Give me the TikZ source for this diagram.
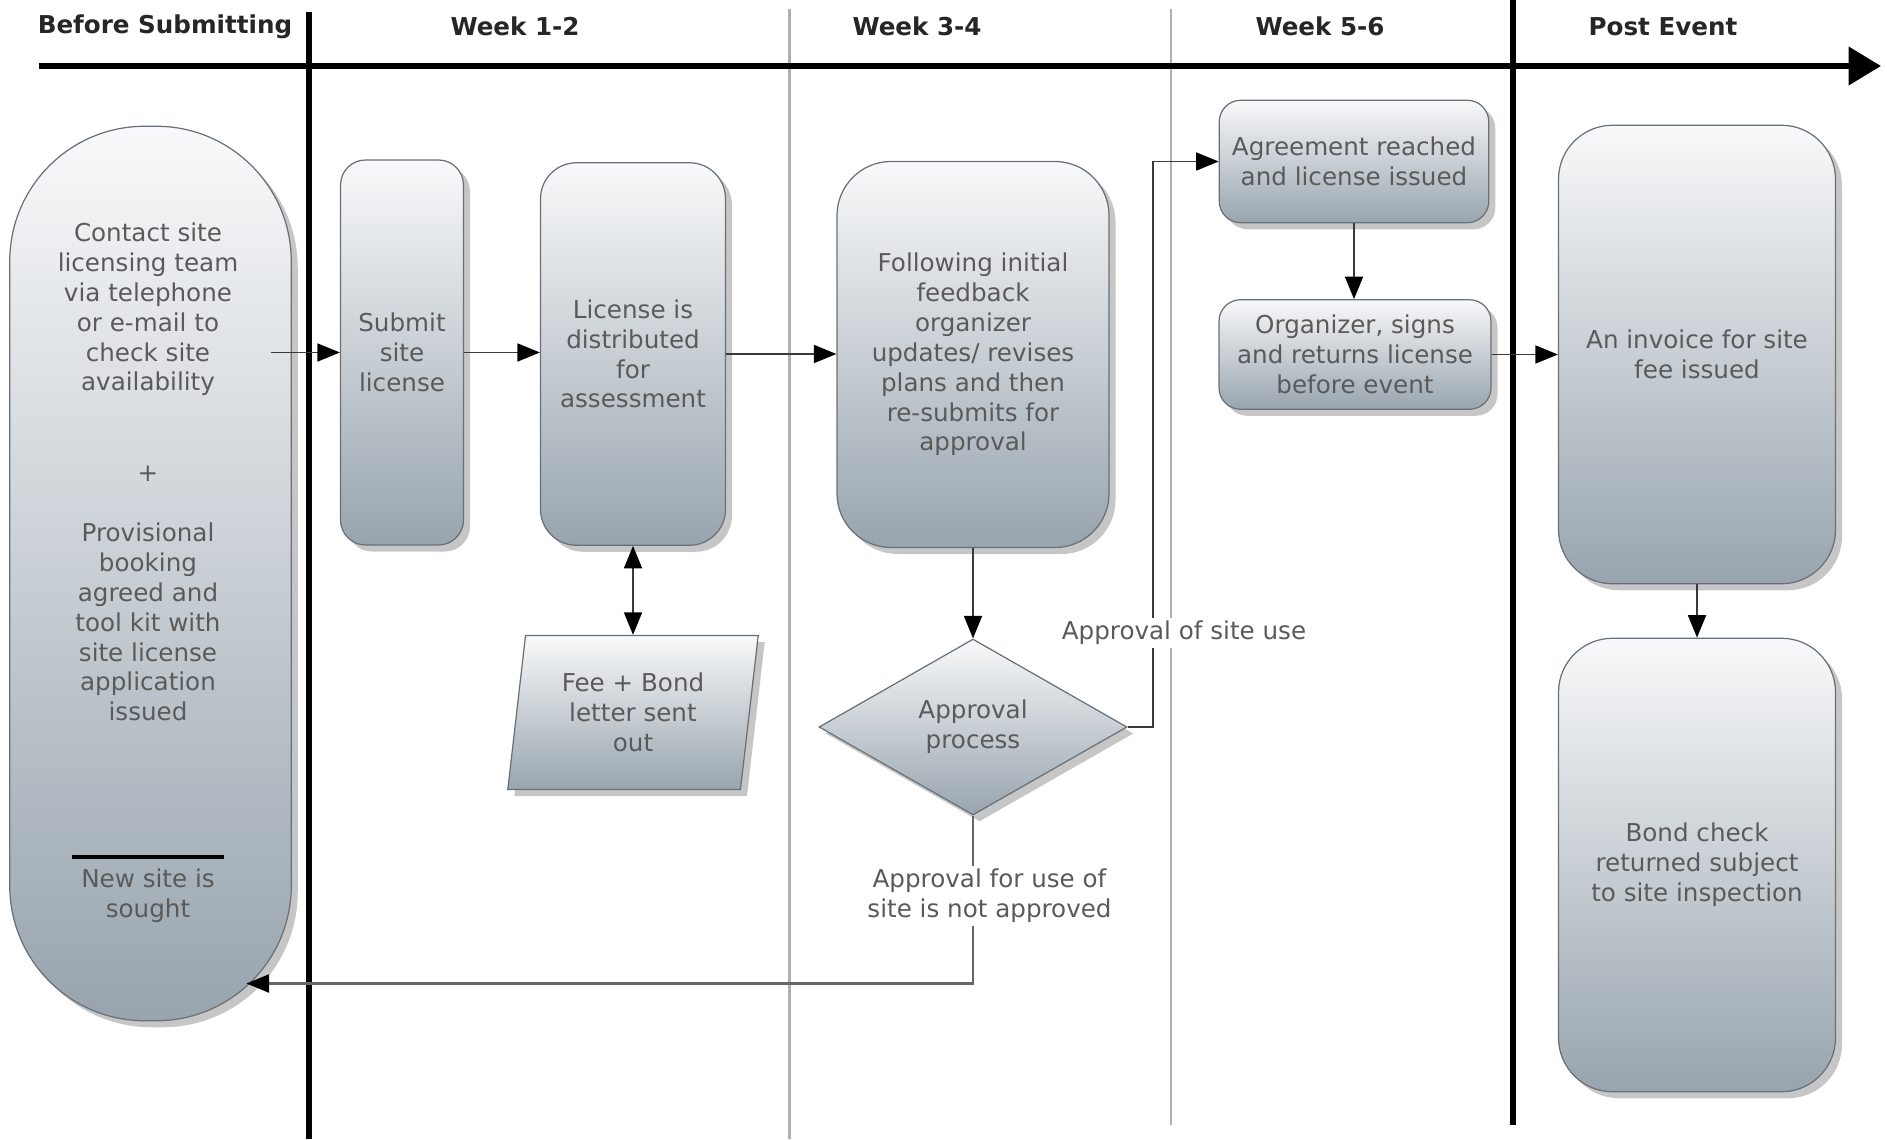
\documentclass[tikz,border=0pt]{standalone}
\usepackage{fontspec}
\setmainfont{DejaVu Sans}
\usetikzlibrary{arrows.meta,shapes.geometric,shadows,positioning}

\definecolor{boxtop}{HTML}{F8F9FA}
\definecolor{boxbot}{HTML}{98A4AE}
\definecolor{boxline}{HTML}{6A7077}
\definecolor{txtgray}{HTML}{5A5A5A}
\definecolor{lanegray}{HTML}{B0B0B0}
\definecolor{flowgray}{HTML}{3A3A3A}

\begin{document}
\begin{tikzpicture}[
    >={Triangle[length=0.45cm,width=0.36cm,color=black]},
    procbox/.style={draw=boxline, line width=0.7pt, top color=boxtop, bottom color=boxbot,
      drop shadow={shadow xshift=0.13cm, shadow yshift=-0.13cm, opacity=0.45},
      text=txtgray, align=center, inner sep=0pt, font=\fontsize{14}{17}\selectfont},
    boxtext/.style={text=txtgray, align=center, inner sep=0pt, font=\fontsize{14}{17}\selectfont},
    flowtext/.style={boxtext, fill=white, inner sep=2pt},
    head/.style={font=\fontsize{14}{17}\selectfont\bfseries, text=black!85},
    flow/.style={->, draw=flowgray, line width=1pt},
    lanethick/.style={line width=3.4pt, black},
    lanethin/.style={line width=1.2pt, lanegray}
  ]
  \useasboundingbox (0,0) rectangle (37.74,-22.78);

  % Lanes and timeline
  \draw[lanethin] (15.79,-0.19) -- (15.79,-22.78);
  \draw[lanethin] (23.42,-0.19) -- (23.42,-22.50);
  \draw[lanethick] (6.18,-0.24) -- (6.18,-22.78);
  \draw[lanethick] (30.26,0) -- (30.26,-22.50);
  \draw[line width=3.4pt, -{Triangle[length=0.65cm,width=0.75cm]}] (0.77,-1.32) -- (37.62,-1.32);

  % Lane headings
  \node[head] (hbefore) at (3.30,-0.53) {Before Submitting};
  \node[head] (hweek12) at (10.30,-0.53) {Week 1-2};
  \node[head] (hweek34) at (18.34,-0.53) {Week 3-4};
  \node[head] (hweek56) at (26.40,-0.53) {Week 5-6};
  \node[head] (hpost) at (33.26,-0.53) {Post Event};

  % Before submitting
  \node[procbox, rounded corners=2.7cm, minimum width=5.63cm, minimum height=17.89cm] (contact) at (3.01,-11.47) {};
  \node[boxtext] (contacttxt) at (2.96,-6.19) {Contact site\\licensing team\\via telephone\\or e-mail to\\check site\\availability};
  \node[boxtext] (plus) at (2.96,-9.48) {+};
  \node[boxtext] (provisional) at (2.96,-12.44) {Provisional\\booking\\agreed and\\tool kit with\\site license\\application\\issued};
  \draw[line width=2.2pt] (1.44,-17.14) -- (4.48,-17.14);
  \node[boxtext] (newsite) at (2.96,-17.92) {New site is\\sought};

  % Week 1-2
  \node[procbox, rounded corners=0.5cm, minimum width=2.46cm, minimum height=7.70cm] (submit) at (8.04,-7.05) {Submit\\site\\license};
  \node[procbox, rounded corners=0.72cm, minimum width=3.70cm, minimum height=7.65cm] (license) at (12.66,-7.08) {License is\\distributed\\for\\assessment};
  \node[procbox, trapezium, trapezium left angle=81.5, trapezium right angle=98.5, trapezium stretches=true,
        minimum width=5.05cm, minimum height=3.08cm] (fee) at (12.66,-14.25) {Fee + Bond\\letter sent\\out};

  % Week 3-4
  \node[procbox, rounded corners=1.08cm, minimum width=5.44cm, minimum height=7.72cm] (follow) at (19.46,-7.09) {Following initial\\feedback\\organizer\\updates/ revises\\plans and then\\re-submits for\\approval};
  \node[procbox, diamond, shape aspect=1.75, minimum width=6.16cm, minimum height=3.52cm] (approve) at (19.46,-14.54) {Approval\\process};

  % Week 5-6
  \node[procbox, rounded corners=0.43cm, minimum width=5.39cm, minimum height=2.45cm] (agree) at (27.08,-3.23) {Agreement reached\\and license issued};
  \node[procbox, rounded corners=0.43cm, minimum width=5.44cm, minimum height=2.19cm] (sign) at (27.10,-7.09) {Organizer, signs\\and returns license\\before event};

  % Post event
  \node[procbox, rounded corners=1.08cm, minimum width=5.54cm, minimum height=9.17cm] (invoice) at (33.94,-7.09) {An invoice for site\\fee issued};
  \node[procbox, rounded corners=1.08cm, minimum width=5.54cm, minimum height=9.07cm] (bond) at (33.94,-17.30) {Bond check\\returned subject\\to site inspection};

  % Connectors
  \coordinate (contactout) at (5.42,-7.05);
  \coordinate (contactin) at (4.93,-19.67);
  \draw[flow] (contactout) -- (submit.west);
  \draw[flow] (submit.east) -- (submit.east -| license.west);
  \draw[flow] (license.east) -- (license.east -| follow.west);
  \draw[flow, <->] (license.south) -- (fee.north);
  \draw[flow] (follow.south) -- (approve.north);
  \draw[flow] (approve.east) -- ++(0.51,0) |- (agree.west);
  \draw[flow] (agree.south) -- (agree.south |- sign.north);
  \draw[flow] (sign.east) -- (sign.east -| invoice.west);
  \draw[flow] (invoice.south) -- (bond.north);
  \draw[flow, draw=black!60, line width=1.3pt] (approve.south) |- (contactin);

  % Connector labels
  \node[flowtext] (yeslbl) at (23.68,-12.66) {Approval of site use};
  \node[flowtext] (nolbl) at (19.79,-17.92) {Approval for use of\\site is not approved};
\end{tikzpicture}
\end{document}
